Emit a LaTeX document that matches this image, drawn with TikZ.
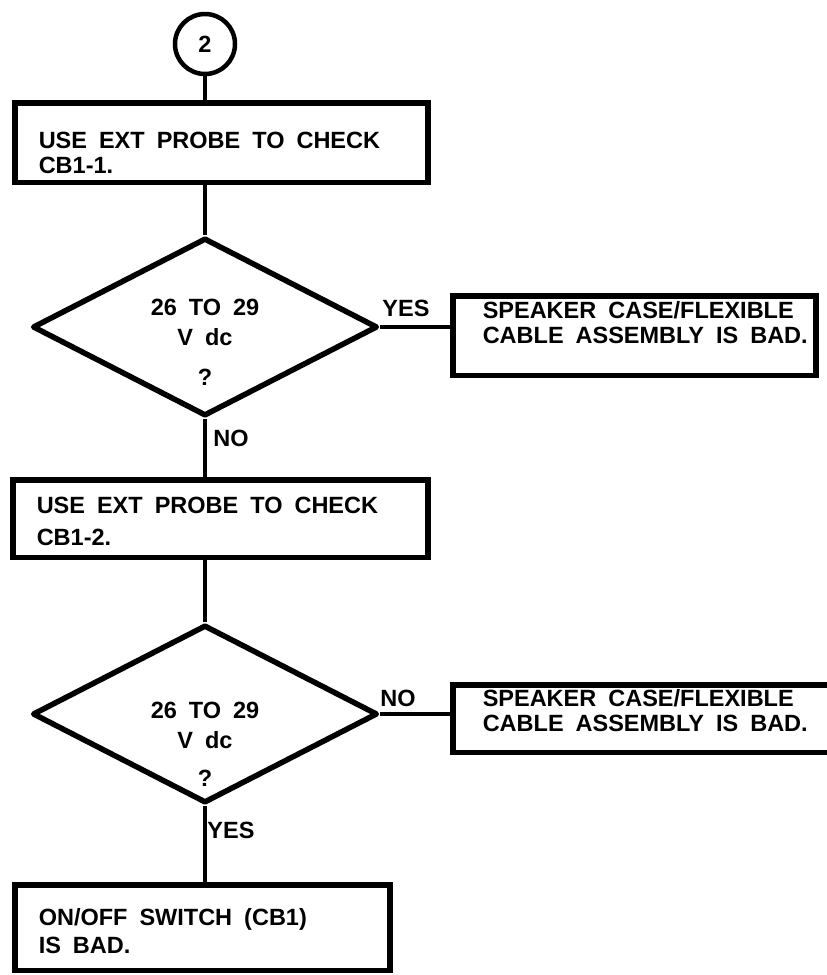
\documentclass[tikz,border=0pt]{standalone}
\usepackage{fontspec}
\setmainfont{Liberation Sans}
\usetikzlibrary{shapes.geometric, positioning}
\hyphenpenalty=10000
\newcommand{\flowfont}{\bfseries\fontsize{23.5}{25}\selectfont}
\newcommand{\askfont}{\bfseries\fontsize{23.5}{30}\selectfont}

\begin{document}
\begin{tikzpicture}[
      x=1pt, y=-1pt,
      txt/.style={font=\flowfont, execute at begin node={\spaceskip 12pt\relax}},
      box/.style={txt, draw, rectangle, line width=5.5pt, anchor=north west, align=left, inner xsep=24pt, inner ysep=0pt},
      dia/.style={draw, diamond, line width=5.5pt, line join=round, minimum width=345pt, minimum height=178pt, inner sep=0pt},
      qtxt/.style={font=\askfont, execute at begin node={\spaceskip 12pt\relax}, align=center, inner sep=0pt},
      lbl/.style={txt, inner sep=0pt},
      lnk/.style={line width=4.5pt}
    ]
      \useasboundingbox (0,0) rectangle (827,975);
      \clip (0,0) rectangle (827,975);

      % Entry point
      \node[txt, circle, draw, line width=4.5pt, minimum size=60pt, inner sep=0pt] (c2) at (205,44) {2};

      % Check CB1-1
      \node[box, minimum width=413pt, text width=365pt, text height=45.5pt, text depth=34pt] (b1) at (12,100) {USE EXT PROBE TO CHECK\\CB1-1.};
      \node[dia] (q1) at (205,327) {};
      \node[qtxt] (q1t) at (205,342) {26 TO 29\\V dc\\[10pt]?};
      \node[box, inner xsep=30pt, minimum width=363pt, text width=303pt, text height=22.5pt, text depth=57pt] (ya) at (450,293) {SPEAKER~CASE/FLEXIBLE\\CABLE~ASSEMBLY~IS~BAD.};
      \node[lbl] (yes1) at (406,308) {YES};
      \node[lbl] (no1) at (231,438) {NO};

      % Check CB1-2
      \node[box, minimum width=415pt, text width=367pt, text height=33.5pt, text depth=44pt] (b2) at (10,477) {USE EXT PROBE TO CHECK\\[7pt]CB1-2.};
      \node[dia] (q2) at (205,714) {};
      \node[qtxt] (q2t) at (205,744) {26 TO 29\\V dc\\[8pt]?};
      \node[box, inner xsep=30pt, minimum width=415pt, text width=355pt, text height=21.5pt, text depth=46pt] (yb) at (450,682) {SPEAKER~CASE/FLEXIBLE\\CABLE~ASSEMBLY~IS~BAD.};
      \node[lbl] (no2) at (398,698) {NO};
      \node[lbl] (yes2) at (231,830) {YES};

      % Result
      \node[box, minimum width=375pt, text width=327pt, text height=40.5pt, text depth=45pt] (b3) at (12,882) {ON/OFF SWITCH (CB1)\\[3pt]IS BAD.};

      % Connectors
      \draw[lnk] (c2) -- (c2 |- b1.north);
      \draw[lnk] (q1.north |- b1.south) -- (q1.north);
      \draw[lnk] (q1.east) -- (q1.east -| ya.west);
      \draw[lnk] (q1.south) -- (q1.south |- b2.north);
      \draw[lnk] (q2.north |- b2.south) -- (q2.north);
      \draw[lnk] (q2.east) -- (q2.east -| yb.west);
      \draw[lnk] (q2.south) -- (q2.south |- b3.north);
    \end{tikzpicture}
\end{document}
